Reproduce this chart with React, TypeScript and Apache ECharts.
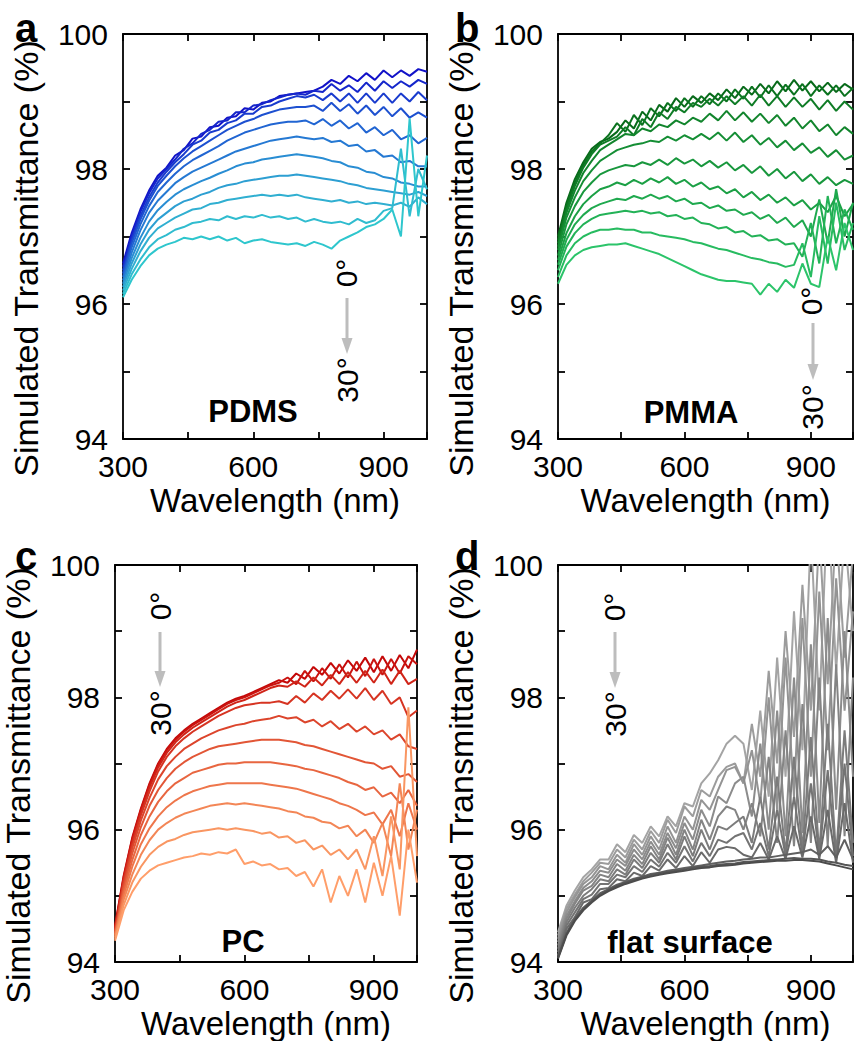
import React, { useEffect, useRef } from "react";
import * as echarts from "echarts";

const FONT = "'Liberation Sans', Arial, Helvetica, sans-serif";

// Wavelength grid (nm)
const wavelengths = [300, 320, 340, 360, 380, 400, 420, 440, 460, 480, 500, 520, 540, 560, 580, 600, 620, 640, 660, 680, 700, 720, 740, 760, 780, 800, 820, 840, 860, 880, 900, 920, 940, 960, 980, 1000];
const angleLabels = ["0°", "3°", "6°", "9°", "12°", "15°", "18°", "21°", "24°", "27°", "30°"];
const xTickLabels = [300, 600, 900];
const yTickLabels = [94, 96, 98, 100];

// ---- (a) PDMS ----
const pdms00 = [96.60, 97.05, 97.40, 97.68, 97.90, 98.02, 98.20, 98.28, 98.45, 98.48, 98.62, 98.64, 98.76, 98.78, 98.90, 98.88, 98.98, 99.00, 99.08, 99.10, 99.12, 99.14, 99.16, 99.22, 99.32, 99.26, 99.38, 99.30, 99.42, 99.32, 99.46, 99.36, 99.46, 99.38, 99.48, 99.44];
const pdms03 = [96.55, 97.00, 97.36, 97.64, 97.86, 98.00, 98.14, 98.30, 98.38, 98.52, 98.58, 98.70, 98.72, 98.84, 98.84, 98.94, 98.96, 99.02, 99.06, 99.10, 99.12, 99.10, 99.16, 99.14, 99.26, 99.16, 99.24, 99.14, 99.28, 99.16, 99.30, 99.20, 99.30, 99.22, 99.32, 99.26];
const pdms06 = [96.50, 96.95, 97.30, 97.58, 97.80, 97.96, 98.10, 98.22, 98.36, 98.42, 98.54, 98.58, 98.68, 98.72, 98.82, 98.82, 98.92, 98.94, 99.00, 99.04, 99.08, 99.06, 99.10, 99.02, 99.12, 99.00, 99.12, 98.98, 99.12, 98.98, 99.12, 98.98, 99.12, 99.00, 99.14, 99.02];
const pdms09 = [96.45, 96.90, 97.25, 97.53, 97.75, 97.90, 98.04, 98.16, 98.26, 98.34, 98.42, 98.50, 98.58, 98.64, 98.70, 98.74, 98.80, 98.84, 98.88, 98.90, 98.92, 98.92, 98.94, 98.86, 98.98, 98.86, 98.96, 98.82, 98.94, 98.80, 98.92, 98.78, 98.90, 98.76, 98.84, 98.76];
const pdms12 = [96.40, 96.84, 97.18, 97.45, 97.66, 97.80, 97.93, 98.04, 98.13, 98.20, 98.27, 98.34, 98.42, 98.48, 98.54, 98.58, 98.62, 98.66, 98.68, 98.70, 98.70, 98.72, 98.66, 98.74, 98.64, 98.72, 98.60, 98.68, 98.54, 98.62, 98.50, 98.58, 98.44, 98.50, 98.38, 98.46];
const pdms15 = [96.35, 96.76, 97.09, 97.35, 97.53, 97.66, 97.79, 97.88, 97.96, 98.02, 98.08, 98.14, 98.20, 98.26, 98.30, 98.34, 98.38, 98.42, 98.44, 98.46, 98.48, 98.46, 98.44, 98.46, 98.40, 98.42, 98.34, 98.36, 98.26, 98.28, 98.18, 98.20, 98.10, 98.12, 98.04, 98.04];
const pdms18 = [96.30, 96.68, 96.98, 97.22, 97.39, 97.51, 97.62, 97.70, 97.76, 97.82, 97.87, 97.93, 97.98, 98.04, 98.08, 98.10, 98.14, 98.16, 98.18, 98.20, 98.22, 98.20, 98.18, 98.16, 98.12, 98.10, 98.04, 98.02, 97.96, 97.94, 97.88, 97.86, 97.80, 97.78, 97.74, 97.74];
const pdms21 = [96.25, 96.60, 96.88, 97.10, 97.25, 97.35, 97.45, 97.52, 97.56, 97.62, 97.66, 97.72, 97.76, 97.78, 97.82, 97.84, 97.86, 97.88, 97.90, 97.90, 97.92, 97.90, 97.88, 97.86, 97.84, 97.82, 97.78, 97.76, 97.72, 97.70, 97.68, 97.66, 97.64, 97.62, 97.66, 97.60];
const pdms24 = [96.20, 96.52, 96.78, 96.98, 97.12, 97.20, 97.28, 97.34, 97.40, 97.42, 97.48, 97.50, 97.54, 97.56, 97.58, 97.60, 97.62, 97.60, 97.62, 97.60, 97.62, 97.58, 97.56, 97.54, 97.52, 97.54, 97.50, 97.52, 97.48, 97.50, 97.48, 97.46, 97.50, 97.44, 97.58, 97.48];
const pdms27 = [96.15, 96.44, 96.66, 96.84, 96.96, 97.02, 97.10, 97.14, 97.20, 97.22, 97.26, 97.24, 97.30, 97.26, 97.30, 97.28, 97.32, 97.28, 97.30, 97.26, 97.28, 97.22, 97.26, 97.22, 97.20, 97.22, 97.18, 97.26, 97.20, 97.24, 97.38, 97.42, 98.30, 97.30, 98.00, 97.70];
const pdms30 = [96.10, 96.36, 96.56, 96.72, 96.82, 96.88, 96.92, 96.98, 96.96, 97.00, 96.96, 97.00, 96.94, 96.98, 96.90, 96.94, 96.96, 96.92, 96.90, 96.88, 96.90, 96.86, 96.92, 96.88, 96.82, 96.94, 97.00, 97.06, 97.14, 97.18, 97.26, 97.40, 97.00, 98.75, 97.30, 98.20];

// ---- (b) PMMA ----
const pmma00 = [97.00, 97.50, 97.85, 98.10, 98.30, 98.40, 98.45, 98.55, 98.72, 98.60, 98.85, 98.72, 98.95, 98.85, 99.05, 98.92, 99.08, 98.98, 99.12, 99.02, 99.18, 99.05, 99.22, 99.10, 99.26, 99.12, 99.30, 99.15, 99.32, 99.16, 99.30, 99.15, 99.28, 99.14, 99.26, 99.18];
const pmma03 = [96.95, 97.45, 97.80, 98.06, 98.26, 98.38, 98.50, 98.68, 98.55, 98.80, 98.65, 98.90, 98.78, 98.98, 98.86, 99.05, 98.92, 99.08, 98.96, 99.12, 99.00, 99.18, 99.04, 99.22, 99.06, 99.24, 99.08, 99.25, 99.10, 99.26, 99.08, 99.24, 99.10, 99.24, 99.08, 99.20];
const pmma06 = [96.90, 97.40, 97.75, 98.02, 98.22, 98.36, 98.42, 98.48, 98.62, 98.50, 98.74, 98.62, 98.84, 98.74, 98.92, 98.84, 98.98, 98.92, 99.04, 98.94, 99.08, 98.96, 99.08, 98.94, 99.10, 98.94, 99.08, 98.92, 99.06, 98.92, 99.04, 98.88, 99.02, 98.86, 99.00, 98.88];
const pmma09 = [96.85, 97.35, 97.68, 97.94, 98.12, 98.28, 98.36, 98.44, 98.52, 98.50, 98.60, 98.56, 98.66, 98.62, 98.72, 98.66, 98.76, 98.70, 98.82, 98.72, 98.86, 98.72, 98.84, 98.70, 98.82, 98.68, 98.80, 98.64, 98.76, 98.60, 98.72, 98.56, 98.66, 98.50, 98.62, 98.52];
const pmma12 = [96.80, 97.28, 97.58, 97.82, 97.98, 98.12, 98.20, 98.28, 98.32, 98.36, 98.38, 98.42, 98.40, 98.48, 98.42, 98.50, 98.44, 98.52, 98.44, 98.54, 98.42, 98.54, 98.40, 98.50, 98.36, 98.46, 98.32, 98.42, 98.28, 98.38, 98.24, 98.32, 98.18, 98.28, 98.14, 98.20];
const pmma15 = [96.72, 97.18, 97.45, 97.66, 97.80, 97.92, 97.98, 98.02, 98.06, 98.04, 98.10, 98.06, 98.14, 98.06, 98.16, 98.08, 98.14, 98.04, 98.12, 98.02, 98.10, 97.98, 98.06, 97.94, 98.04, 97.90, 98.00, 97.86, 97.96, 97.82, 97.92, 97.78, 97.88, 97.76, 97.84, 97.78];
const pmma18 = [96.65, 97.05, 97.30, 97.48, 97.60, 97.70, 97.74, 97.80, 97.76, 97.84, 97.78, 97.86, 97.80, 97.88, 97.78, 97.84, 97.74, 97.80, 97.70, 97.74, 97.64, 97.70, 97.58, 97.66, 97.54, 97.62, 97.50, 97.58, 97.46, 97.54, 97.40, 97.50, 97.36, 97.60, 97.30, 97.48];
const pmma21 = [96.58, 96.95, 97.18, 97.32, 97.42, 97.48, 97.52, 97.56, 97.54, 97.60, 97.56, 97.62, 97.56, 97.60, 97.52, 97.56, 97.48, 97.50, 97.42, 97.46, 97.38, 97.40, 97.32, 97.36, 97.26, 97.32, 97.20, 97.28, 97.14, 97.24, 97.00, 97.55, 96.90, 97.70, 97.00, 97.50];
const pmma24 = [96.50, 96.85, 97.05, 97.18, 97.26, 97.32, 97.34, 97.36, 97.38, 97.36, 97.38, 97.34, 97.36, 97.30, 97.32, 97.26, 97.28, 97.20, 97.18, 97.12, 97.14, 97.06, 97.08, 97.00, 97.02, 96.94, 96.96, 96.88, 96.90, 96.70, 97.20, 96.60, 97.60, 96.90, 97.40, 97.10];
const pmma27 = [96.40, 96.72, 96.90, 97.00, 97.06, 97.10, 97.10, 97.12, 97.10, 97.10, 97.06, 97.06, 97.02, 97.00, 96.98, 96.96, 96.92, 96.90, 96.86, 96.82, 96.80, 96.76, 96.72, 96.68, 96.66, 96.62, 96.60, 96.55, 96.58, 96.90, 96.40, 97.30, 96.60, 97.50, 96.80, 97.20];
const pmma30 = [96.30, 96.58, 96.72, 96.80, 96.84, 96.86, 96.88, 96.88, 96.90, 96.86, 96.82, 96.78, 96.74, 96.68, 96.62, 96.56, 96.50, 96.44, 96.40, 96.36, 96.34, 96.34, 96.32, 96.30, 96.14, 96.30, 96.18, 96.36, 96.24, 96.60, 96.30, 96.25, 97.00, 96.50, 97.20, 96.80];

// ---- (c) PC ----
const pc00 = [94.55, 95.30, 95.88, 96.32, 96.70, 97.00, 97.22, 97.38, 97.50, 97.60, 97.68, 97.76, 97.84, 97.92, 97.98, 98.02, 98.08, 98.14, 98.20, 98.26, 98.22, 98.36, 98.28, 98.46, 98.34, 98.52, 98.36, 98.56, 98.40, 98.60, 98.38, 98.62, 98.40, 98.64, 98.44, 98.72];
const pc03 = [94.53, 95.28, 95.86, 96.30, 96.68, 96.98, 97.20, 97.36, 97.48, 97.58, 97.66, 97.74, 97.82, 97.90, 97.96, 98.00, 98.06, 98.12, 98.18, 98.22, 98.30, 98.20, 98.40, 98.24, 98.44, 98.28, 98.50, 98.30, 98.54, 98.32, 98.58, 98.34, 98.58, 98.36, 98.62, 98.50];
const pc06 = [94.50, 95.25, 95.82, 96.26, 96.64, 96.94, 97.16, 97.32, 97.44, 97.54, 97.62, 97.70, 97.78, 97.86, 97.92, 97.96, 98.02, 98.08, 98.14, 98.18, 98.16, 98.24, 98.16, 98.30, 98.18, 98.34, 98.20, 98.38, 98.22, 98.40, 98.22, 98.42, 98.20, 98.40, 98.20, 98.28];
const pc09 = [94.48, 95.22, 95.78, 96.22, 96.58, 96.88, 97.10, 97.26, 97.38, 97.48, 97.56, 97.64, 97.72, 97.78, 97.84, 97.88, 97.90, 97.92, 97.92, 97.94, 97.90, 98.02, 97.92, 98.06, 97.96, 98.10, 97.98, 98.12, 97.98, 98.14, 97.96, 98.10, 97.90, 98.00, 97.70, 97.80];
const pc12 = [94.46, 95.18, 95.72, 96.14, 96.48, 96.76, 96.96, 97.10, 97.22, 97.30, 97.38, 97.44, 97.50, 97.54, 97.58, 97.60, 97.64, 97.66, 97.68, 97.72, 97.68, 97.70, 97.62, 97.66, 97.56, 97.64, 97.52, 97.60, 97.48, 97.56, 97.44, 97.50, 97.36, 97.44, 97.26, 97.22];
const pc15 = [94.44, 95.12, 95.64, 96.04, 96.36, 96.60, 96.78, 96.92, 97.02, 97.10, 97.16, 97.22, 97.26, 97.28, 97.30, 97.32, 97.34, 97.36, 97.36, 97.36, 97.34, 97.32, 97.28, 97.26, 97.22, 97.18, 97.14, 97.10, 97.06, 97.02, 97.00, 96.92, 96.96, 96.80, 96.84, 96.72];
const pc18 = [94.42, 95.06, 95.54, 95.92, 96.20, 96.42, 96.58, 96.70, 96.78, 96.86, 96.90, 96.94, 96.98, 97.00, 97.00, 97.02, 97.02, 97.02, 97.02, 97.00, 96.98, 96.96, 96.92, 96.90, 96.86, 96.82, 96.78, 96.72, 96.68, 96.60, 96.64, 96.50, 96.56, 96.40, 96.60, 96.36];
const pc21 = [94.40, 95.00, 95.44, 95.78, 96.02, 96.20, 96.34, 96.44, 96.52, 96.58, 96.62, 96.66, 96.68, 96.70, 96.70, 96.70, 96.70, 96.70, 96.68, 96.66, 96.64, 96.62, 96.58, 96.54, 96.50, 96.46, 96.40, 96.36, 96.30, 96.22, 96.26, 96.08, 96.30, 95.90, 96.40, 96.00];
const pc24 = [94.38, 94.94, 95.32, 95.62, 95.84, 96.00, 96.10, 96.18, 96.24, 96.28, 96.32, 96.36, 96.38, 96.40, 96.38, 96.40, 96.38, 96.36, 96.34, 96.32, 96.28, 96.26, 96.20, 96.18, 96.12, 96.10, 96.02, 96.06, 95.90, 96.00, 95.80, 96.10, 95.60, 96.70, 95.70, 96.30];
const pc27 = [94.35, 94.86, 95.20, 95.44, 95.62, 95.74, 95.82, 95.86, 95.92, 95.96, 95.98, 96.00, 96.02, 96.00, 96.02, 96.00, 95.98, 95.94, 95.96, 95.88, 95.90, 95.80, 95.84, 95.70, 95.76, 95.62, 95.70, 95.55, 95.70, 95.40, 95.90, 95.30, 96.20, 95.40, 97.85, 95.60];
const pc30 = [94.32, 94.78, 95.06, 95.26, 95.38, 95.46, 95.50, 95.54, 95.58, 95.60, 95.64, 95.62, 95.66, 95.64, 95.70, 95.48, 95.52, 95.46, 95.48, 95.40, 95.42, 95.30, 95.36, 95.14, 95.40, 94.90, 95.30, 95.00, 95.40, 94.90, 95.50, 95.00, 95.60, 94.70, 96.00, 95.20];

// ---- (d) flat surface ----
const flat00 = [94.45, 94.85, 95.08, 95.28, 95.40, 95.55, 95.55, 95.78, 95.66, 95.92, 95.80, 96.05, 95.90, 96.20, 96.05, 96.40, 96.35, 96.70, 96.85, 97.05, 97.30, 97.42, 97.30, 96.60, 97.80, 96.50, 98.60, 96.80, 99.30, 97.20, 100.50, 97.80, 101.00, 98.40, 100.50, 99.00];
const flat03 = [94.40, 94.80, 95.02, 95.22, 95.35, 95.50, 95.48, 95.70, 95.58, 95.85, 95.70, 95.98, 95.80, 96.15, 95.95, 96.35, 96.20, 96.60, 96.50, 96.80, 96.95, 97.00, 96.70, 97.60, 96.80, 98.40, 97.00, 99.00, 97.40, 99.70, 97.80, 100.50, 98.20, 100.60, 98.60, 100.20];
const flat06 = [94.35, 94.75, 94.98, 95.18, 95.28, 95.45, 95.40, 95.62, 95.50, 95.78, 95.62, 95.90, 95.70, 96.05, 95.80, 96.20, 96.00, 96.45, 96.30, 96.60, 96.90, 96.95, 96.70, 97.20, 96.40, 98.00, 96.30, 98.60, 96.50, 99.20, 96.80, 99.60, 97.20, 99.80, 97.80, 99.30];
const flat09 = [94.30, 94.70, 94.92, 95.12, 95.22, 95.38, 95.35, 95.55, 95.45, 95.70, 95.55, 95.82, 95.62, 95.95, 95.72, 96.10, 95.85, 96.30, 96.05, 96.50, 96.40, 96.70, 96.80, 96.20, 97.30, 96.00, 97.80, 95.90, 98.30, 95.95, 98.80, 96.10, 99.20, 96.30, 99.00, 96.80];
const flat12 = [94.25, 94.65, 94.88, 95.08, 95.15, 95.32, 95.28, 95.48, 95.38, 95.62, 95.48, 95.75, 95.55, 95.88, 95.62, 96.00, 95.70, 96.15, 95.85, 96.20, 96.35, 96.30, 96.00, 96.40, 95.90, 97.10, 95.80, 97.50, 95.75, 97.90, 95.80, 98.30, 95.75, 98.50, 95.90, 98.30];
const flat15 = [94.20, 94.60, 94.82, 95.00, 95.10, 95.25, 95.22, 95.40, 95.32, 95.55, 95.42, 95.65, 95.50, 95.78, 95.55, 95.90, 95.60, 96.00, 95.70, 96.05, 96.00, 96.10, 96.20, 95.80, 96.50, 95.70, 96.80, 95.65, 97.10, 95.70, 97.40, 95.65, 97.60, 95.60, 97.50, 95.80];
const flat18 = [94.15, 94.55, 94.75, 94.95, 95.02, 95.18, 95.18, 95.32, 95.28, 95.45, 95.36, 95.55, 95.44, 95.65, 95.50, 95.75, 95.52, 95.80, 95.60, 95.85, 95.80, 95.90, 95.95, 95.70, 96.10, 95.60, 96.30, 95.60, 96.50, 95.62, 96.70, 95.60, 96.90, 95.55, 97.00, 95.60];
const flat21 = [94.10, 94.50, 94.68, 94.90, 94.95, 95.10, 95.12, 95.25, 95.22, 95.35, 95.30, 95.45, 95.38, 95.55, 95.42, 95.60, 95.45, 95.66, 95.50, 95.70, 95.74, 95.72, 95.62, 95.58, 95.80, 95.55, 95.90, 95.56, 96.05, 95.58, 96.20, 95.56, 96.30, 95.50, 96.40, 95.50];
const flat24 = [94.08, 94.44, 94.66, 94.82, 94.93, 95.04, 95.10, 95.17, 95.21, 95.26, 95.29, 95.33, 95.35, 95.38, 95.40, 95.42, 95.44, 95.46, 95.48, 95.50, 95.52, 95.53, 95.55, 95.56, 95.58, 95.58, 95.60, 95.62, 95.64, 95.66, 95.70, 95.62, 95.75, 95.58, 95.85, 95.55];
const flat27 = [94.06, 94.42, 94.64, 94.80, 94.92, 95.02, 95.09, 95.15, 95.20, 95.24, 95.28, 95.31, 95.34, 95.36, 95.38, 95.40, 95.42, 95.44, 95.45, 95.47, 95.48, 95.49, 95.51, 95.52, 95.53, 95.54, 95.55, 95.56, 95.57, 95.56, 95.56, 95.55, 95.52, 95.50, 95.47, 95.45];
const flat30 = [94.05, 94.40, 94.62, 94.78, 94.90, 95.00, 95.07, 95.13, 95.18, 95.22, 95.26, 95.29, 95.32, 95.34, 95.36, 95.38, 95.40, 95.42, 95.43, 95.45, 95.46, 95.47, 95.49, 95.50, 95.51, 95.52, 95.53, 95.53, 95.54, 95.54, 95.53, 95.52, 95.49, 95.46, 95.43, 95.40];

// ---- colours ----
const pdmsColors = ["#1212c8", "#1526cb", "#193bce", "#1d50d0", "#2165d2", "#2579d3", "#298dd3", "#2d9fd2", "#30afd1", "#30bccf", "#2ec6cd"];
const pmmaColors = ["#086a1a", "#0b731f", "#0f7c26", "#12852d", "#158e35", "#18973d", "#1ba045", "#1fa94e", "#23b257", "#27bb60", "#2cc46a"];
const pcColors = ["#c40808", "#ca1410", "#d02418", "#d63422", "#dc452c", "#e25636", "#e86640", "#ee764b", "#f38656", "#f99662", "#ff9e6a"];
const flatColors = ["#a4a4a4", "#9c9c9c", "#949494", "#8c8c8c", "#848484", "#7c7c7c", "#747474", "#6a6a6a", "#606060", "#565656", "#4c4c4c"];

const panels = [
  { letter: "a", label: "PDMS", colors: pdmsColors, curves: [pdms00, pdms03, pdms06, pdms09, pdms12, pdms15, pdms18, pdms21, pdms24, pdms27, pdms30] },
  { letter: "b", label: "PMMA", colors: pmmaColors, curves: [pmma00, pmma03, pmma06, pmma09, pmma12, pmma15, pmma18, pmma21, pmma24, pmma27, pmma30] },
  { letter: "c", label: "PC", colors: pcColors, curves: [pc00, pc03, pc06, pc09, pc12, pc15, pc18, pc21, pc24, pc27, pc30] },
  { letter: "d", label: "flat surface", colors: flatColors, curves: [flat00, flat03, flat06, flat09, flat12, flat15, flat18, flat21, flat24, flat27, flat30] },
];

// layout (pixels)
const grids = [
  { left: 123, top: 34, width: 304, height: 405 },
  { left: 558, top: 34, width: 303, height: 405 },
  { left: 114, top: 565, width: 303, height: 405 },
  { left: 558, top: 565, width: 304, height: 405 },
];
const letterPos = [[15, 28], [455, 28], [15, 556], [455, 556]];
const labelPos = [[253, 411], [691, 412], [243, 941], [690, 942]];
const zeroPos = [[346, 273], [811, 301], [160, 606], [614, 607]];
const thirtyPos = [[347, 380], [812, 407], [160, 713], [615, 714]];
const arrowPos = [[347, 298, 354], [813, 323, 380], [160, 632, 687], [615, 632, 688]];

function buildOption() {
  const axisLineStyle = { color: "#000", width: 1.8 };
  const xAxis: any[] = [];
  const yAxis: any[] = [];
  grids.forEach((_, gi) => {
    const xBase = {
      gridIndex: gi, type: "value", min: 300, max: 1000, interval: 150,
      splitLine: { show: false },
      axisLine: { show: true, onZero: false, lineStyle: axisLineStyle },
      axisTick: { show: true, inside: true, length: 7, lineStyle: axisLineStyle },
    };
    xAxis.push({
      ...xBase, position: "bottom",
      name: "Wavelength (nm)", nameLocation: "middle", nameGap: 45,
      nameTextStyle: { fontSize: 33, color: "#000", fontFamily: FONT },
      axisLabel: {
        show: true, fontSize: 30, color: "#000", fontFamily: FONT, margin: 12,
        formatter: (v: number) => (xTickLabels.indexOf(v) >= 0 ? String(v) : ""),
      },
    });
    xAxis.push({ ...xBase, position: "top", axisLabel: { show: false } });
    const yBase = {
      gridIndex: gi, type: "value", min: 94, max: 100, interval: 1,
      splitLine: { show: false },
      axisLine: { show: true, onZero: false, lineStyle: axisLineStyle },
      axisTick: { show: true, inside: true, length: 7, lineStyle: axisLineStyle },
    };
    yAxis.push({
      ...yBase, position: "left",
      name: "Simulated Transmittance (%)", nameLocation: "middle", nameRotate: 90, nameGap: 80,
      nameTextStyle: { fontSize: 34, color: "#000", fontFamily: FONT, padding: [0, 44, 0, 0] },
      axisLabel: {
        show: true, fontSize: 30, color: "#000", fontFamily: FONT, margin: 15,
        formatter: (v: number) => (yTickLabels.indexOf(Math.round(v)) >= 0 && Math.abs(v - Math.round(v)) < 1e-6 ? String(Math.round(v)) : ""),
      },
    });
    yAxis.push({ ...yBase, position: "right", axisLabel: { show: false } });
  });

  const series: any[] = [];
  panels.forEach((p, pi) => {
    p.curves.forEach((vals, k) => {
      series.push({
        type: "line",
        name: `${p.label} ${angleLabels[k]}`,
        xAxisIndex: 2 * pi,
        yAxisIndex: 2 * pi,
        data: wavelengths.map((w, i) => [w, vals[i]]),
        showSymbol: false,
        symbol: "none",
        clip: true,
        silent: true,
        lineStyle: { color: p.colors[k], width: 2 },
        itemStyle: { color: p.colors[k] },
      });
    });
  });

  const graphic: any[] = [];
  panels.forEach((p, pi) => {
    graphic.push({
      type: "text", x: letterPos[pi][0], y: letterPos[pi][1], z: 100,
      style: { text: p.letter, font: `bold 40px ${FONT}`, fill: "#000", align: "left", verticalAlign: "middle" },
    });
    graphic.push({
      type: "text", x: labelPos[pi][0], y: labelPos[pi][1], z: 100,
      style: { text: p.label, font: `bold 31px ${FONT}`, fill: "#000", align: "center", verticalAlign: "middle" },
    });
    graphic.push({
      type: "text", x: zeroPos[pi][0], y: zeroPos[pi][1], rotation: Math.PI / 2, z: 100,
      style: { text: "0°", font: `30px ${FONT}`, fill: "#000", align: "center", verticalAlign: "middle" },
    });
    graphic.push({
      type: "text", x: thirtyPos[pi][0], y: thirtyPos[pi][1], rotation: Math.PI / 2, z: 100,
      style: { text: "30°", font: `30px ${FONT}`, fill: "#000", align: "center", verticalAlign: "middle" },
    });
    const [ax, ay0, ay1] = arrowPos[pi];
    graphic.push({
      type: "line", z: 100,
      shape: { x1: ax, y1: ay0, x2: ax, y2: ay1 - 12 },
      style: { stroke: "#bdbdbd", lineWidth: 3 },
    });
    graphic.push({
      type: "polygon", z: 100,
      shape: { points: [[ax - 5.5, ay1 - 16], [ax + 5.5, ay1 - 16], [ax, ay1]] },
      style: { fill: "#bdbdbd" },
    });
  });

  return {
    animation: false,
    backgroundColor: "#ffffff",
    textStyle: { fontFamily: FONT },
    grid: grids.map((g) => ({ ...g, containLabel: false, show: false })),
    xAxis,
    yAxis,
    series,
    graphic,
  };
}

export default function App() {
  const ref = useRef<HTMLDivElement>(null);
  useEffect(() => {
    if (!ref.current) return;
    const chart = echarts.init(ref.current, undefined, { renderer: "svg" });
    chart.setOption(buildOption() as any);
    return () => chart.dispose();
  }, []);
  return (
    <div
      ref={ref}
      style={{ position: "fixed", left: 0, top: 0, width: 856, height: 1041, background: "#fff" }}
    />
  );
}
